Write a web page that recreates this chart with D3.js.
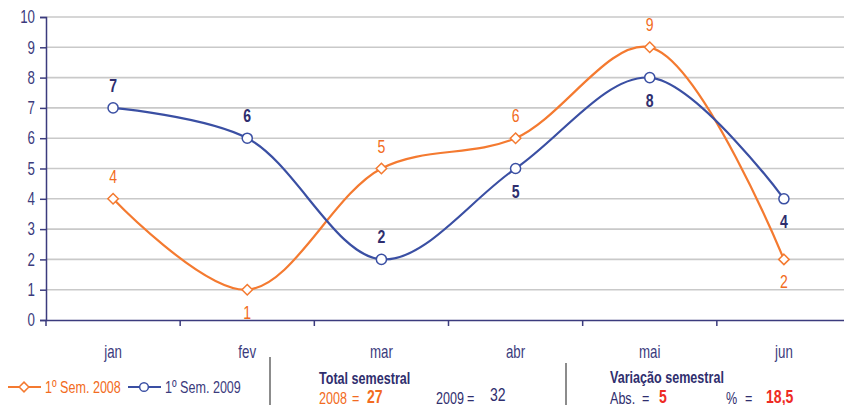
<!DOCTYPE html>
<html>
<head>
<meta charset="utf-8">
<script src="https://cdn.jsdelivr.net/npm/d3@7"></script>
<style>
  body { margin: 0; background: #fff; }
  text { font-family: "Liberation Sans", Arial, sans-serif; }
</style>
</head>
<body>
<script>
// data
const months = ["jan", "fev", "mar", "abr", "mai", "jun"];
const sem2008 = [4, 1, 5, 6, 9, 2];
const sem2009 = [7, 6, 2, 5, 8, 4];
// label placement per point: true = above
const pos2008 = [true, false, true, true, true, false];
const pos2009 = [true, true, true, false, false, false];
const yTicks = [0, 1, 2, 3, 4, 5, 6, 7, 8, 9, 10];

const width = 844, height = 405;
const margin = {top: 17, left: 46, right: -7, bottom: 85};
const K = 0.74; // horizontal squeeze, the source font is a narrow face

const orange = "#f47a30", orangeText = "#f26b21";
const blue = "#3a4fa3", navy = "#2f2e6e", axisNavy = "#3b3b7d";
const red = "#ee2b24";

// squeeze text horizontally around its anchor point
function narrow(sel) {
  sel.each(function() {
    const t = d3.select(this);
    const tx = +t.attr("x") || 0, ty = +t.attr("y") || 0;
    t.attr("x", 0).attr("y", 0)
     .attr("transform", `translate(${tx},${ty}) scale(${K},1)`);
  });
}

const svg = d3.select("body").append("svg")
    .attr("width", width)
    .attr("height", height);

const x = d3.scaleBand()
    .domain(months)
    .range([margin.left, width - margin.right]);

const y = d3.scaleLinear()
    .domain([0, 10])
    .range([height - margin.bottom, margin.top]);

const cx = d => x(d) + x.bandwidth() / 2;

// grid
svg.append("g")
    .selectAll("line")
    .data(yTicks.slice(1))
    .join("line")
    .attr("x1", margin.left)
    .attr("x2", width)
    .attr("y1", d => y(d))
    .attr("y2", d => y(d))
    .attr("stroke", "#c9c9c9")
    .attr("stroke-width", 1.6);

// y axis
const yAxis = svg.append("g")
    .attr("transform", `translate(${margin.left},0)`)
    .call(d3.axisLeft(y).tickValues(yTicks).tickSize(6).tickPadding(5));
yAxis.select(".domain").attr("stroke", axisNavy).attr("stroke-width", 1.5);
yAxis.selectAll(".tick line").attr("stroke", axisNavy).attr("stroke-width", 1.5);
yAxis.selectAll(".tick text")
    .attr("fill", axisNavy)
    .style("font-size", "18px")
    .call(narrow);

// x axis
const xAxis = svg.append("g")
    .attr("transform", `translate(0,${y(0)})`)
    .call(d3.axisBottom(x).tickSize(0).tickPadding(25));
xAxis.select(".domain").attr("stroke", axisNavy).attr("stroke-width", 1.5);
xAxis.selectAll(".tick text")
    .attr("fill", axisNavy)
    .style("font-size", "18px")
    .call(narrow);
// band boundary ticks
xAxis.append("g")
    .selectAll("line")
    .data(months)
    .join("line")
    .attr("x1", d => x(d))
    .attr("x2", d => x(d))
    .attr("y1", 0)
    .attr("y2", 6)
    .attr("stroke", axisNavy)
    .attr("stroke-width", 1.5);

const line = d3.line()
    .x((d, i) => cx(months[i]))
    .y(d => y(d))
    .curve(d3.curveCatmullRom.alpha(0.5));

function drawSeries(values, color, labelColor, above, marker, bold) {
  const g = svg.append("g");
  g.append("path")
      .datum(values)
      .attr("d", line)
      .attr("fill", "none")
      .attr("stroke", color)
      .attr("stroke-width", 2.2);

  g.selectAll(".pt")
      .data(values)
      .join("path")
      .attr("class", "pt")
      .attr("transform", (d, i) => `translate(${cx(months[i])},${y(d)})`)
      .attr("d", d3.symbol().type(marker).size(marker === d3.symbolDiamond2 ? 70 : 80))
      .attr("fill", "#fff")
      .attr("stroke", color)
      .attr("stroke-width", 1.5);

  g.selectAll(".lbl")
      .data(values)
      .join("text")
      .attr("class", "lbl")
      .attr("x", (d, i) => cx(months[i]))
      .attr("y", (d, i) => y(d) + (above[i] ? -16 : 29))
      .attr("text-anchor", "middle")
      .attr("fill", labelColor)
      .style("font-size", "19px")
      .style("font-weight", bold ? "bold" : "normal")
      .text(d => d)
      .call(narrow);
}

drawSeries(sem2008, orange, orangeText, pos2008, d3.symbolDiamond2, false);
drawSeries(sem2009, blue, navy, pos2009, d3.symbolCircle, true);

// legend
const legend = [
  {label: "1º Sem. 2008", color: orange, text: orangeText, marker: d3.symbolDiamond2, x: 8},
  {label: "1º Sem. 2009", color: blue, text: axisNavy, marker: d3.symbolCircle, x: 128}
];
const lg = svg.append("g").attr("transform", "translate(0,387)");
legend.forEach(l => {
  lg.append("line")
      .attr("x1", l.x).attr("x2", l.x + 33)
      .attr("stroke", l.color).attr("stroke-width", 2.2);
  lg.append("path")
      .attr("transform", `translate(${l.x + 16},0)`)
      .attr("d", d3.symbol().type(l.marker).size(60))
      .attr("fill", "#fff").attr("stroke", l.color).attr("stroke-width", 1.5);
  lg.append("text")
      .attr("x", l.x + 37).attr("y", 6)
      .attr("fill", l.text)
      .style("font-size", "17px")
      .text(l.label)
      .call(narrow);
});

// summary boxes
const total2008 = d3.sum(sem2008);
const total2009 = d3.sum(sem2009);
const absVar = total2009 - total2008;
const pctVar = (absVar / total2008 * 100).toFixed(1).replace(".", ",");

svg.append("line").attr("x1", 270).attr("x2", 270).attr("y1", 357).attr("y2", height)
    .attr("stroke", "#8c8c8c").attr("stroke-width", 2);
svg.append("line").attr("x1", 566).attr("x2", 566).attr("y1", 363).attr("y2", height)
    .attr("stroke", "#8c8c8c").attr("stroke-width", 2);

function txt(xp, yp, s, color, bold, size) {
  svg.append("text")
      .attr("x", xp).attr("y", yp)
      .attr("fill", color)
      .style("font-size", (size || 17) + "px")
      .style("font-weight", bold ? "bold" : "normal")
      .text(s)
      .call(narrow);
}

txt(319, 384, "Total semestral", navy, true);
txt(319, 404, "2008", orangeText, false);
txt(352, 404, "=", orangeText, false);
txt(367, 403, total2008, orangeText, true, 19);
txt(436, 404, "2009", navy, false);
txt(467, 404, "=", navy, false);
txt(490, 401, total2009, navy, false, 19);

txt(610, 383, "Variação semestral", navy, true);
txt(610, 404, "Abs.", navy, false);
txt(642, 404, "=", navy, false);
txt(659, 403, absVar, red, true, 19);
txt(726, 404, "%", navy, false);
txt(745, 404, "=", navy, false);
txt(766, 403, pctVar, red, true, 19);
</script>
</body>
</html>
